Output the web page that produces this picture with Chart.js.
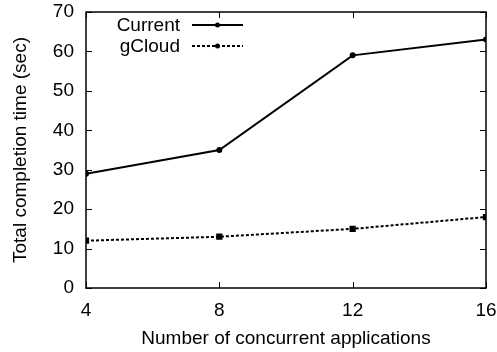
<!DOCTYPE html>
<html>
<head>
<meta charset="utf-8">
<script src="https://cdn.jsdelivr.net/npm/chart.js@4"></script>
<style>
  html, body { margin: 0; padding: 0; background: #fff; }
  #wrap { width: 497px; height: 352px; }
</style>
</head>
<body>
<div id="wrap"><canvas id="timeChart" width="497" height="352"></canvas></div>
<script>
var apps = [4, 8, 12, 16];
var currentTimes = [29, 35, 59, 63];
var gcloudTimes = [12, 13, 15, 18];
var xTicks = [4, 8, 12, 16];
var yTicks = [0, 10, 20, 30, 40, 50, 60, 70];

var FONT = '"Liberation Sans", Arial, Helvetica, sans-serif';
var FSIZE = 19;

// gnuplot style frame, inward ticks on all sides, and key
var framePlugin = {
    id: 'frame',
    afterDatasetsDraw: function(chart) {
        var c = chart.ctx, a = chart.chartArea;
        var xs = chart.scales.x, ys = chart.scales.y;
        c.save();
        c.strokeStyle = '#000';
        c.lineWidth = 1.5;
        c.strokeRect(a.left, a.top, a.right - a.left, a.bottom - a.top);
        c.lineWidth = 1;
        c.beginPath();
        xTicks.forEach(function(v) {
            var px = Math.round(xs.getPixelForValue(v)) + 0.5;
            c.moveTo(px, a.bottom); c.lineTo(px, a.bottom - 6);
            c.moveTo(px, a.top); c.lineTo(px, a.top + 6);
        });
        yTicks.forEach(function(v) {
            var py = Math.round(ys.getPixelForValue(v)) + 0.5;
            c.moveTo(a.left, py); c.lineTo(a.left + 6, py);
            c.moveTo(a.right, py); c.lineTo(a.right - 6, py);
        });
        c.stroke();

        // key
        c.font = FSIZE + 'px ' + FONT;
        c.fillStyle = '#000';
        c.textAlign = 'right';
        c.textBaseline = 'middle';
        chart.data.datasets.forEach(function(ds, i) {
            var y = 25 + i * 21;
            c.fillText(ds.label, 180, y + 1);
            c.beginPath();
            c.lineWidth = ds.borderWidth;
            c.setLineDash(ds.borderDash || []);
            c.moveTo(192, y); c.lineTo(243, y);
            c.stroke();
            c.setLineDash([]);
            c.beginPath();
            c.arc(217.5, y, 2.5, 0, Math.PI * 2);
            c.fill();
        });
        c.restore();
    }
};

var ctx = document.getElementById('timeChart').getContext('2d');
var timeChart = new Chart(ctx, {
    type: 'line',
    data: {
        datasets: [
            {
                label: 'Current',
                data: apps.map((x, i) => ({x: x, y: currentTimes[i]})),
                borderColor: '#000',
                backgroundColor: '#000',
                borderWidth: 2,
                pointRadius: 2,
                pointStyle: 'circle',
                fill: false,
                tension: 0
            },
            {
                label: 'gCloud',
                data: apps.map((x, i) => ({x: x, y: gcloudTimes[i]})),
                borderColor: '#000',
                backgroundColor: '#000',
                borderWidth: 2,
                borderDash: [3, 2],
                pointRadius: 3,
                pointStyle: 'rect',
                fill: false,
                tension: 0
            }
        ]
    },
    options: {
        responsive: false,
        animation: false,
        devicePixelRatio: 1,
        layout: { padding: { top: 12, right: 11, left: 0, bottom: 0 } },
        plugins: {
            legend: { display: false },
            tooltip: { enabled: false }
        },
        scales: {
            x: {
                type: 'linear',
                min: 4,
                max: 16,
                afterBuildTicks: function(s) { s.ticks = xTicks.map(v => ({value: v})); },
                afterFit: function(s) { s.height = 64; s.paddingLeft = 0; s.paddingRight = 0; },
                grid: { display: false, drawTicks: false, tickLength: 0 },
                border: { display: false },
                ticks: { color: '#000', font: { family: FONT, size: FSIZE }, padding: 11 },
                title: {
                    display: true,
                    text: 'Number of concurrent applications',
                    color: '#000',
                    font: { family: FONT, size: FSIZE },
                    padding: { top: 0, bottom: 2 }
                }
            },
            y: {
                min: 0,
                max: 70,
                afterBuildTicks: function(s) { s.ticks = yTicks.map(v => ({value: v})); },
                afterFit: function(s) { s.width = 86; s.paddingTop = 0; s.paddingBottom = 0; },
                grid: { display: false, drawTicks: false, tickLength: 0 },
                border: { display: false },
                ticks: { color: '#000', font: { family: FONT, size: FSIZE }, padding: 12 },
                title: {
                    display: true,
                    text: 'Total completion time (sec)',
                    color: '#000',
                    font: { family: FONT, size: FSIZE },
                    padding: { top: 9, bottom: 0 }
                }
            }
        }
    },
    plugins: [framePlugin]
});
</script>
</body>
</html>
